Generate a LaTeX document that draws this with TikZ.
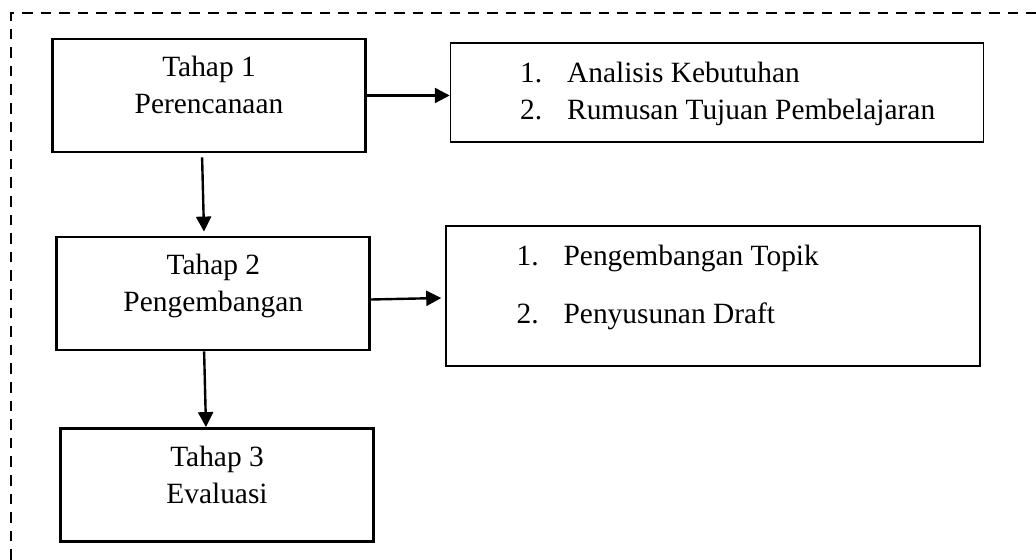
\documentclass[tikz,border=0pt]{standalone}
\usepackage{fontspec}
\setmainfont{Liberation Serif}
\usetikzlibrary{arrows.meta,positioning}

\newcommand{\butir}[2]{\makebox[23.5pt][l]{#1}#2}

\begin{document}
\begin{tikzpicture}[x=0.5pt, y=-0.5pt,
	font=\fontsize{14.7}{18.5}\selectfont,
	tahap/.style={draw, line width=1.4pt, minimum width=156.5pt, minimum height=56.5pt, inner sep=0pt},
	daftar/.style={draw, line width=0.75pt, inner sep=0pt},
	teks/.style={inner sep=0pt, align=center},
	isi/.style={inner sep=0pt, align=left},
	panah/.style={-{Triangle[length=7.5pt,width=7.5pt]}, line width=1.2pt},
	bingkai/.style={dashed, dash pattern=on 5.3pt off 4pt, line width=1.2pt}]
	
	\useasboundingbox (0,0) rectangle (1036,560);
	
	% Dashed frame
	\draw[bingkai] (11,560) -- (11,13) -- (1036,13);
	
	% Tahap boxes
	\node[tahap] (tahap1) at (209,95.5) {};
	\node[teks, below=9pt of tahap1.north] (teks1) {Tahap 1\\Perencanaan};
	
	\node[tahap] (tahap2) at (213.3,293.5) {};
	\node[teks, below=9pt of tahap2.north] (teks2) {Tahap 2\\Pengembangan};
	
	\node[tahap] (tahap3) at (217,485) {};
	\node[teks, below=9.5pt of tahap3.north] (teks3) {Tahap 3\\Evaluasi};
	
	% Lists
	\node[daftar, minimum width=266.5pt, minimum height=49.5pt] (daftar1) at (717,92.5) {};
	\node[isi, below right=9.5pt and 35pt of daftar1.north west] (isi1)
		{\butir{1.}{Analisis Kebutuhan}\\\butir{2.}{Rumusan Tujuan Pembelajaran}};
	
	\node[daftar, minimum width=267pt, minimum height=70pt] (daftar2) at (713,296) {};
	\node[isi, below right=9.5pt and 35.5pt of daftar2.north west] (isi2)
		{\butir{1.}{Pengembangan Topik}\\[10.5pt]\butir{2.}{Penyusunan Draft}};
	
	% Arrows
	\draw[panah] (tahap1.east) -- (daftar1.west |- tahap1.east);
	\draw[panah] ([yshift=-3pt]tahap2.east) -- ([xshift=-2pt,yshift=-1pt]daftar2.west);
	\draw[panah, shorten <=2pt, shorten >=2pt] ([xshift=-3.5pt]tahap1.south) -- ([xshift=-4.6pt]tahap2.north);
	\draw[panah] ([xshift=-4.6pt]tahap2.south) -- ([xshift=-5.5pt]tahap3.north);
	
\end{tikzpicture}
\end{document}
